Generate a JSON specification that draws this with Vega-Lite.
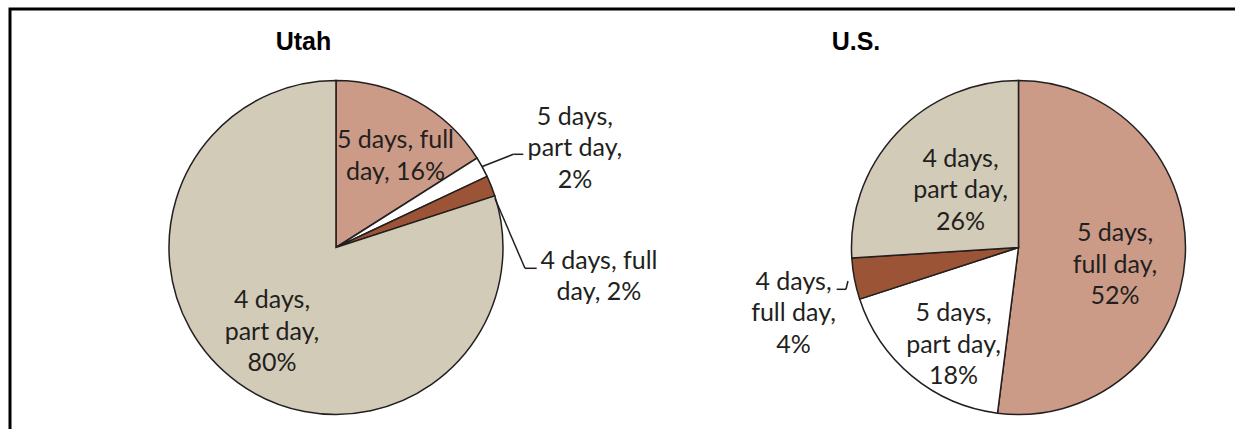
{
  "$schema": "https://vega.github.io/schema/vega-lite/v6.json",
  "width": 1230,
  "height": 477,
  "autosize": {"type": "none"},
  "padding": {"left": 10, "top": 9, "right": -5, "bottom": -57},
  "background": "white",
  "config": {
    "view": {"stroke": "#000000", "strokeWidth": 3},
    "axis": {"disable": true},
    "text": {"font": "Lato", "fontSize": 25, "fill": "#231f20", "lineBreak": "\n", "lineHeight": 31.5, "align": "center", "baseline": "middle"}
  },
  "data": {
    "values": [
      {"region": "Utah", "days": "5 days", "length": "full day", "schedule": "5 days, full day", "pct": 16, "label": "5 days, full\nday, 16%"},
      {"region": "Utah", "days": "5 days", "length": "part day", "schedule": "5 days, part day", "pct": 2, "label": "5 days,\npart day,\n2%"},
      {"region": "Utah", "days": "4 days", "length": "full day", "schedule": "4 days, full day", "pct": 2, "label": "4 days, full\nday, 2%"},
      {"region": "Utah", "days": "4 days", "length": "part day", "schedule": "4 days, part day", "pct": 80, "label": "4 days,\npart day,\n80%"},
      {"region": "U.S.", "days": "5 days", "length": "full day", "schedule": "5 days, full day", "pct": 52, "label": "5 days,\nfull day,\n52%"},
      {"region": "U.S.", "days": "5 days", "length": "part day", "schedule": "5 days, part day", "pct": 18, "label": "5 days,\npart day,\n18%"},
      {"region": "U.S.", "days": "4 days", "length": "full day", "schedule": "4 days, full day", "pct": 4, "label": "4 days,\nfull day,\n4%"},
      {"region": "U.S.", "days": "4 days", "length": "part day", "schedule": "4 days, part day", "pct": 26, "label": "4 days,\npart day,\n26%"}
    ]
  },
  "layer": [
    {
      "layer": [
        {
          "transform": [{"stack": "pct", "groupby": ["region"], "sort": [{"field": "days", "order": "descending"}, {"field": "length", "order": "ascending"}], "as": ["t0", "t1"]}],
          "mark": {"type": "arc", "outerRadius": 167, "stroke": "#231f20", "strokeWidth": 1.5},
          "encoding": {
            "x": {"field": "region", "type": "nominal", "scale": {"type": "point", "domain": ["Utah", "U.S."], "padding": 0.4011, "align": 0.5954}},
            "theta": {"field": "t0", "type": "quantitative", "scale": {"domain": [0, 100]}},
            "theta2": {"field": "t1"},
            "color": {"field": "schedule", "type": "nominal", "legend": null,
              "scale": {"domain": ["5 days, full day", "5 days, part day", "4 days, full day", "4 days, part day"], "range": ["#CC9B87", "#FFFFFF", "#9C5436", "#D2CBB7"]}}
          }
        },
        {
          "transform": [{"filter": "datum.region == 'Utah' && datum.schedule == '5 days, full day'"}],
          "mark": {"type": "text", "radius": 122.65, "theta": 0.5065},
          "encoding": {"x": {"field": "region", "type": "nominal"}, "text": {"field": "label"}}
        },
        {
          "transform": [{"filter": "datum.region == 'Utah' && datum.schedule == '5 days, part day'"}],
          "mark": {"type": "text", "radius": 272.5, "theta": 1.0694},
          "encoding": {"x": {"field": "region", "type": "nominal"}, "text": {"field": "label"}}
        },
        {
          "transform": [{"filter": "datum.region == 'Utah' && datum.schedule == '4 days, full day'"}],
          "mark": {"type": "text", "radius": 263.3, "theta": 1.6211},
          "encoding": {"x": {"field": "region", "type": "nominal"}, "text": {"field": "label"}}
        },
        {
          "transform": [{"filter": "datum.region == 'Utah' && datum.schedule == '4 days, part day'"}],
          "mark": {"type": "text", "radius": 82.8, "theta": 4.0252},
          "encoding": {"x": {"field": "region", "type": "nominal"}, "text": {"field": "label"}}
        },
        {
          "transform": [{"filter": "datum.region == 'U.S.' && datum.schedule == '5 days, full day'"}],
          "mark": {"type": "text", "radius": 97.5, "theta": 1.4266},
          "encoding": {"x": {"field": "region", "type": "nominal"}, "text": {"field": "label"}}
        },
        {
          "transform": [{"filter": "datum.region == 'U.S.' && datum.schedule == '5 days, part day'"}],
          "mark": {"type": "text", "radius": 92.6, "theta": 3.9193},
          "encoding": {"x": {"field": "region", "type": "nominal"}, "text": {"field": "label"}}
        },
        {
          "transform": [{"filter": "datum.region == 'U.S.' && datum.schedule == '4 days, full day'"}],
          "mark": {"type": "text", "radius": 227.55, "theta": 4.5624},
          "encoding": {"x": {"field": "region", "type": "nominal"}, "text": {"field": "label"}}
        },
        {
          "transform": [{"filter": "datum.region == 'U.S.' && datum.schedule == '4 days, part day'"}],
          "mark": {"type": "text", "radius": 106.2, "theta": 5.7057},
          "encoding": {"x": {"field": "region", "type": "nominal"}, "text": {"field": "label"}}
        },
        {
          "transform": [{"filter": "datum.region == 'Utah' && datum.schedule == '5 days, part day'"}],
          "mark": {"type": "rule", "stroke": "#231f20", "strokeWidth": 1.5, "xOffset": 145.7, "yOffset": -80.8, "x2Offset": 177.3, "y2Offset": -93.2},
          "encoding": {"x": {"field": "region", "type": "nominal"}, "x2": {"field": "region"}, "y": {"value": {"expr": "height/2"}}, "y2": {"value": {"expr": "height/2"}}}
        },
        {
          "transform": [{"filter": "datum.region == 'Utah' && datum.schedule == '5 days, part day'"}],
          "mark": {"type": "rule", "stroke": "#231f20", "strokeWidth": 1.5, "xOffset": 177.3, "yOffset": -93.2, "x2Offset": 187.3, "y2Offset": -93.2},
          "encoding": {"x": {"field": "region", "type": "nominal"}, "x2": {"field": "region"}, "y": {"value": {"expr": "height/2"}}, "y2": {"value": {"expr": "height/2"}}}
        },
        {
          "transform": [{"filter": "datum.region == 'Utah' && datum.schedule == '4 days, full day'"}],
          "mark": {"type": "rule", "stroke": "#231f20", "strokeWidth": 1.5, "xOffset": 159, "yOffset": -49, "x2Offset": 189, "y2Offset": 20.8},
          "encoding": {"x": {"field": "region", "type": "nominal"}, "x2": {"field": "region"}, "y": {"value": {"expr": "height/2"}}, "y2": {"value": {"expr": "height/2"}}}
        },
        {
          "transform": [{"filter": "datum.region == 'Utah' && datum.schedule == '4 days, full day'"}],
          "mark": {"type": "rule", "stroke": "#231f20", "strokeWidth": 1.5, "xOffset": 189, "yOffset": 20.8, "x2Offset": 200.7, "y2Offset": 20.8},
          "encoding": {"x": {"field": "region", "type": "nominal"}, "x2": {"field": "region"}, "y": {"value": {"expr": "height/2"}}, "y2": {"value": {"expr": "height/2"}}}
        },
        {
          "transform": [{"filter": "datum.region == 'U.S.' && datum.schedule == '4 days, full day'"}],
          "mark": {"type": "rule", "stroke": "#231f20", "strokeWidth": 1.5, "xOffset": -181.8, "yOffset": 41.8, "x2Offset": -172.5, "y2Offset": 41.8},
          "encoding": {"x": {"field": "region", "type": "nominal"}, "x2": {"field": "region"}, "y": {"value": {"expr": "height/2"}}, "y2": {"value": {"expr": "height/2"}}}
        },
        {
          "transform": [{"filter": "datum.region == 'U.S.' && datum.schedule == '4 days, full day'"}],
          "mark": {"type": "rule", "stroke": "#231f20", "strokeWidth": 1.5, "xOffset": -172.5, "yOffset": 41.8, "x2Offset": -170.5, "y2Offset": 33.5},
          "encoding": {"x": {"field": "region", "type": "nominal"}, "x2": {"field": "region"}, "y": {"value": {"expr": "height/2"}}, "y2": {"value": {"expr": "height/2"}}}
        }
      ]
    },
    {
      "transform": [{"filter": "datum.schedule == '5 days, full day'"}],
      "mark": {"type": "text", "font": "Liberation Sans", "fontWeight": "bold", "fontSize": 25, "fill": "#000000", "baseline": "alphabetic", "dy": -197.5},
      "encoding": {
        "x": {"field": "region", "type": "nominal", "scale": {"type": "point", "domain": ["Utah", "U.S."], "padding": 0.6131, "align": 0.4332}},
        "text": {"field": "region"}
      }
    }
  ],
  "resolve": {"scale": {"x": "independent"}}
}
